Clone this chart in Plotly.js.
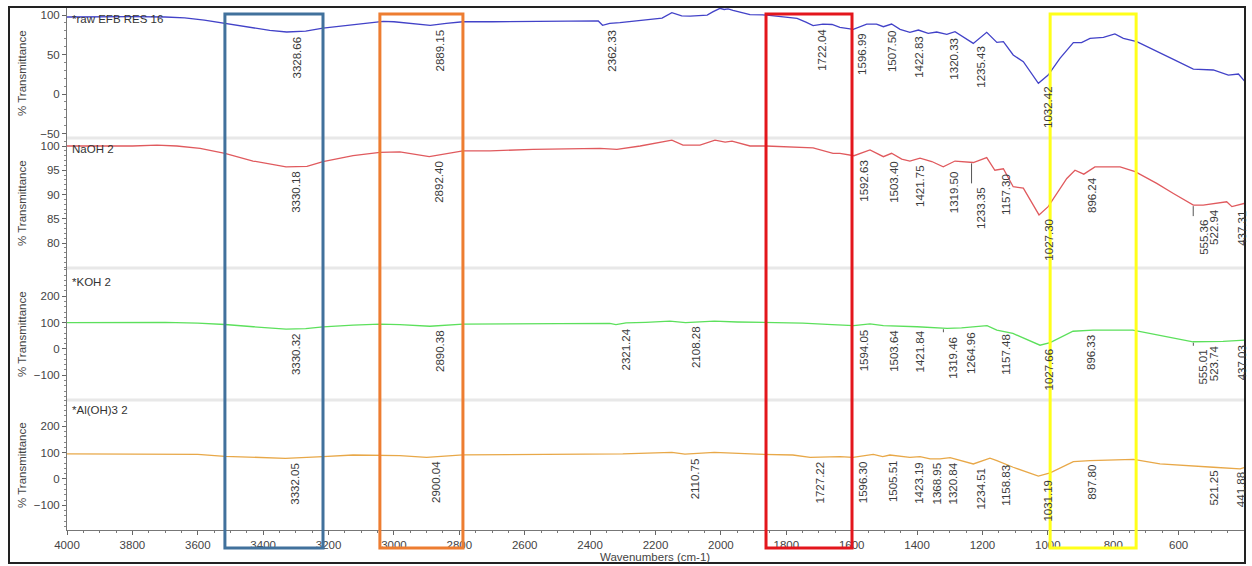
<!DOCTYPE html>
<html><head><meta charset="utf-8">
<script src="https://cdn.plot.ly/plotly-3.0.1.min.js"></script>
<style>html,body{margin:0;padding:0;background:#fff}#chart{width:1252px;height:566px}</style>
</head><body><div id="chart"></div>
<script>
// ---------- DATA ----------
const seriesNames = ['*raw EFB RES 16', 'NaOH 2', '*KOH 2', '*Al(OH)3 2'];

const wnRaw = [4000,3900,3800,3700,3640,3580,3517,3440,3380,3328,3270,3217,3130,3060,3033,3000,2950,2889,2840,2789,2700,2600,2500,2400,2375,2362,2340,2309,2250,2180,2150,2120,2094,2042,2025,2003,1990,1978,1963,1911,1859,1800,1767,1740,1718,1688,1660,1636,1595,1554,1524,1503,1478,1452,1422,1396,1366,1340,1309,1284,1228,1187,1156,1136,1106,1075,1029,999,963,922,897,871,830,795,769,728,657,616,555,494,448,417,397];
const tRaw  = [97.5,98,98,97.5,96.5,93.5,89.5,84.5,80.5,78.5,79.5,83.5,87.5,91,92,91.5,89.5,87,89.5,91.5,91.5,92,92.5,93,92.5,87,89.5,90.5,93,96,103,99,98.7,100,104,108.5,107,107.8,106,100.5,100,97.5,95.8,91,86.5,88.6,88,84.4,81.9,88.6,88.6,85.2,88.6,81.9,78.1,81,76.8,78.5,75.5,78.9,64.1,78.1,65.4,66.2,49.4,40.9,13.5,24,45.2,65,65,70.5,71.8,76,70.5,66.2,51.5,43.9,31.6,30.4,24,25.3,15.6];

const wnNaOH = [4000,3800,3725,3664,3593,3517,3431,3330,3266,3217,3125,3043,2982,2892,2789,2706,2575,2370,2318,2247,2150,2116,2064,2018,1987,1966,1911,1862,1718,1657,1636,1593,1544,1503,1478,1447,1422,1391,1355,1320,1284,1228,1187,1162,1136,1106,1075,1027,999,942,917,890,856,779,733,667,616,555,525,484,453,437,397];
const tNaOH  = [100,100,100.2,100,99.5,98.5,96.9,95.7,95.8,96.8,98,98.7,98.8,97.8,99,99,99.3,99.5,99.3,100,101.2,100.2,100.2,101.2,100.8,101,100,100,99.6,98.5,98.5,98,99.2,97.8,98.5,97.3,96.9,97.5,96.8,95.7,96.9,96.6,97.6,95,95.3,91.6,91.3,85.8,87.5,93.3,95,94.2,95.7,95.7,94.7,92.3,90.2,87.8,87.8,88.2,88.5,87.5,88.2];

const wnKOH = [4000,3800,3700,3600,3517,3430,3330,3270,3217,3125,3043,2982,2890,2789,2600,2450,2340,2321,2290,2230,2156,2108,2060,2020,1950,1862,1750,1660,1636,1594,1544,1503,1400,1308,1264,1238,1186,1156,1107,1024,993,923,862,740,657,556,464,397];
const tKOH  = [100,101,101,98,92.6,84,75,77,83.6,90,94,92,86,94,96,97,96.5,92,99,101,105,100,103,105,102,100,98,92,90,88,95,88,84,77.5,80,82,88,71,58.5,14,24,67,71,71,52,27,28.5,33];

const wnAl = [4000,3800,3600,3517,3400,3332,3217,3125,2982,2900,2789,2575,2300,2150,2110,2020,1890,1780,1727,1636,1596,1534,1505,1483,1422,1391,1360,1330,1299,1228,1177,1156,1106,1029,993,922,871,738,657,494,412,397];
const tAl  = [95,95,93,86,82,78.5,85,91,89,82,91.5,94,95,101,94,101,94,91,82,85,82,93,85,91,82,85,76,76,81,57,79,70,44.5,10.5,23,66,70,74,57,44.5,38,44.5];

// peak labels (wavenumbers, cm-1)
const labelsRaw  = ['3328.66','2889.15','2362.33','1722.04','1596.99','1507.50','1422.83','1320.33','1235.43','1032.42'];
const labelsNaOH = ['3330.18','2892.40','1592.63','1503.40','1421.75','1319.50','1233.35','1157.30','1027.30','896.24','555.36','522.94','437.31'];
const labelsKOH  = ['3330.32','2890.38','2321.24','2108.28','1594.05','1503.64','1421.84','1319.46','1264.96','1157.48','1027.66','896.33','555.01','523.74','437.03'];
const labelsAl   = ['3332.05','2900.04','2110.75','1727.22','1596.30','1505.51','1423.19','1368.95','1320.84','1234.51','1158.83','1031.19','897.80','521.25','441.88'];

// highlighted wavenumber regions (cm-1)
const regionStart = [3517, 3043, 1862, 993];
const regionEnd   = [3217, 2789, 1599, 730];

// tick labels
const xTickVals = [4000,3800,3600,3400,3200,3000,2800,2600,2400,2200,2000,1800,1600,1400,1200,1000,800,600];
const yTicksRaw  = [100, 50, 0, -50];
const yTicksNaOH = [100, 95, 90, 85, 80];
const yTicksKOH  = [200, 100, 0, -100];
const yTicksAl   = [200, 100, 0, -100];

// ---------- BUILD ----------
const FONT = 'Liberation Sans, Arial, sans-serif';
const colors = ['#4242c8', '#e05a5e', '#5ce05c', '#e8a848'];
const regionColors = ['#41719c', '#ed7d31', '#e3161c', '#ffff1a'];
const X0 = 4000, X1 = 397;
const T = 8, B = 530, PH = 522, L = 67, PW = 1178;
const py = p => (B - p) / PH;
const px = p => (p - L) / PW;
const wx = w => (X0 - w) / (X0 - X1);

const domains = [[py(138), 1], [py(268), py(138)], [py(400), py(268)], [0, py(400)]];
const ranges = [[-55.7, 108.9], [74.85, 101.65], [-194, 307], [-194, 300]];
const yTicks = [yTicksRaw, yTicksNaOH, yTicksKOH, yTicksAl];
const minors = [10, 1, 20, 20];
const nameTop = [11, 141, 274, 402];

const wns = [wnRaw, wnNaOH, wnKOH, wnAl];
const ts = [tRaw, tNaOH, tKOH, tAl];
const labs = [labelsRaw, labelsNaOH, labelsKOH, labelsAl];
const leaders = {'1|1233.35': 21, '1|555.36': 11, '2|1319.46': 4, '2|555.01': 4};

function interp(wn, t, x) {
  for (let i = 0; i < wn.length - 1; i++) {
    if (x <= wn[i] && x >= wn[i+1]) {
      const f = (wn[i] - x) / (wn[i] - wn[i+1]);
      return t[i] + f * (t[i+1] - t[i]);
    }
  }
  return t[t.length - 1];
}

const traces = [];
const annotations = [];
const shapes = [];
const layout = {
  width: 1252, height: 566,
  margin: {l: L, r: 1252 - L - PW, t: T, b: 566 - B},
  paper_bgcolor: '#fff', plot_bgcolor: '#fff',
  showlegend: false,
  font: {family: FONT, size: 11, color: '#444'},
  xaxis: {
    range: [X0, X1], anchor: 'y4', tickmode: 'array', tickvals: xTickVals,
    ticks: 'outside', ticklen: 4, tickcolor: '#666', showline: true, linecolor: '#777', linewidth: 1,
    showgrid: false, zeroline: false, tickfont: {family: FONT, size: 11.5, color: '#444'},
    minor: {ticks: 'outside', ticklen: 2, tickcolor: '#777', dtick: 50, tick0: 0, showgrid: false}
  }
};

for (let k = 0; k < 4; k++) {
  const ya = k === 0 ? 'y' : 'y' + (k + 1);
  const yKey = k === 0 ? 'yaxis' : 'yaxis' + (k + 1);
  traces.push({
    x: wns[k], y: ts[k], xaxis: 'x', yaxis: ya, type: 'scatter', mode: 'lines',
    line: {color: colors[k], width: 1.3}, hoverinfo: 'skip'
  });
  layout[yKey] = {
    domain: domains[k], range: ranges[k], anchor: 'x', tickmode: 'array', tickvals: yTicks[k],
    ticks: 'outside', ticklen: 4, tickcolor: '#666', showline: true, linecolor: '#777', linewidth: 1,
    showgrid: false, zeroline: false, tickfont: {family: FONT, size: 11.5, color: '#444'},
    minor: {ticks: 'outside', ticklen: 2, tickcolor: '#888', dtick: minors[k], tick0: 0, showgrid: false}
  };
  annotations.push({
    xref: 'paper', yref: 'paper', x: px(22), y: (domains[k][0] + domains[k][1]) / 2,
    text: '% Transmittance', textangle: -90, showarrow: false, xanchor: 'center', yanchor: 'middle',
    font: {family: FONT, size: 11.5, color: '#444'}
  });
  annotations.push({
    xref: 'paper', yref: 'paper', x: px(70), y: py(nameTop[k]), text: seriesNames[k],
    showarrow: false, xanchor: 'left', yanchor: 'top', font: {family: FONT, size: 11.5, color: '#333'}
  });
  labs[k].forEach(s => {
    const w = parseFloat(s);
    const v = interp(wns[k], ts[k], w);
    const lead = leaders[k + '|' + s] || 0;
    if (lead) {
      shapes.push({type: 'line', xref: 'x', yref: ya, ysizemode: 'pixel', yanchor: v,
        x0: w, x1: w, y0: -1, y1: -lead, line: {color: '#555', width: 1}});
    }
    annotations.push({
      xref: 'x', yref: ya, x: w, y: v, text: s, textangle: -90, showarrow: false,
      xanchor: 'left', yanchor: 'top', xshift: 2, yshift: -(2 + lead),
      font: {family: FONT, size: 11.5, color: '#3a3a3a'}
    });
  });
}

[138, 268, 400].forEach(p => shapes.push({
  type: 'line', xref: 'paper', yref: 'paper', x0: 0, x1: 1, y0: py(p), y1: py(p),
  line: {color: '#e8e8e8', width: 3}, layer: 'below'
}));

for (let i = 0; i < regionStart.length; i++) {
  shapes.push({
    type: 'rect', xref: 'paper', yref: 'paper',
    x0: wx(regionStart[i]), x1: wx(regionEnd[i]), y0: py(548), y1: py(14),
    line: {color: regionColors[i], width: 3}, fillcolor: 'rgba(0,0,0,0)', layer: 'above'
  });
}

shapes.push({
  type: 'rect', xref: 'paper', yref: 'paper', x0: px(9), x1: px(1245), y0: py(563), y1: py(7),
  line: {color: '#222', width: 2}, fillcolor: 'rgba(0,0,0,0)', layer: 'above'
});

annotations.push({
  xref: 'paper', yref: 'paper', x: px(655), y: py(557), text: 'Wavenumbers (cm-1)',
  showarrow: false, xanchor: 'center', yanchor: 'middle', font: {family: FONT, size: 11.5, color: '#444'}
});

layout.annotations = annotations;
layout.shapes = shapes;

Plotly.newPlot('chart', traces, layout, {displayModeBar: false, staticPlot: true});
</script>
</body></html>
